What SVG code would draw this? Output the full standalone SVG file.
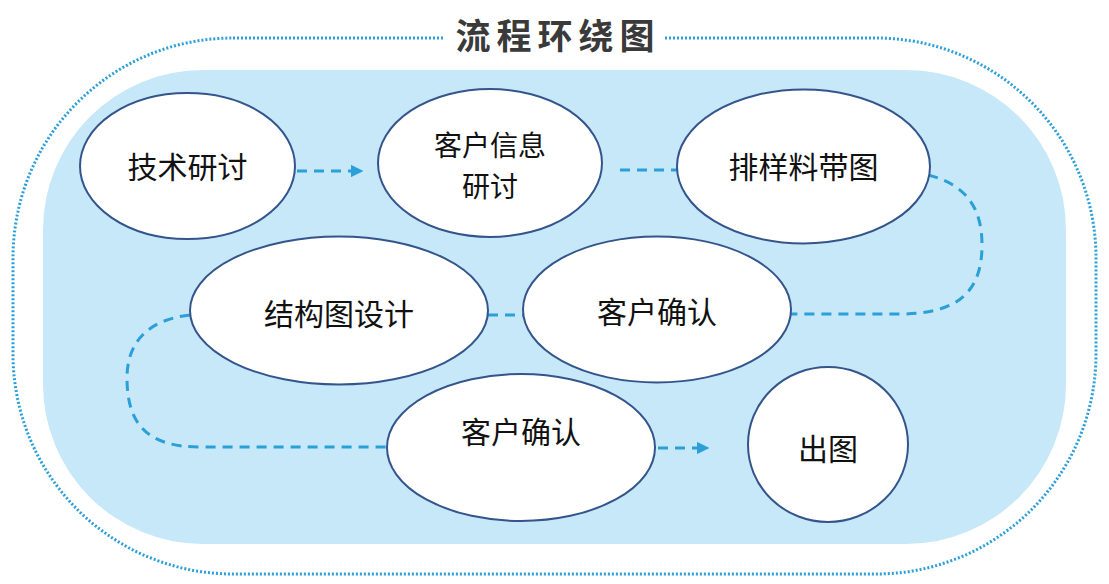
<svg xmlns="http://www.w3.org/2000/svg" width="1109" height="584" viewBox="0 0 1109 584">
  <style>
    .node ellipse { fill: #ffffff; stroke: #34548c; stroke-width: 2; }
    .node text { font-family: "Noto Sans CJK SC", "Liberation Serif", sans-serif; font-size: 30px; fill: #111111; text-anchor: middle; dominant-baseline: central; }
    .node text.two { font-size: 28px; }
    .conn path { fill: none; stroke: #2a9fd8; stroke-width: 3; stroke-dasharray: 10 7; }
    .title { font-family: "Noto Sans CJK SC", sans-serif; font-size: 35px; font-weight: 700; fill: #3a3a3a; text-anchor: middle; dominant-baseline: central; letter-spacing: 6px; }
  </style>
  <defs>
    <marker id="arrow" viewBox="0 0 10 10" refX="9" refY="5" markerWidth="4.2" markerHeight="4.2" orient="auto" markerUnits="strokeWidth">
      <path d="M0,0 L10,5 L0,10 Z" fill="#2a9fd8"/>
    </marker>
  </defs>
  <rect x="0" y="0" width="1109" height="584" fill="#ffffff"/>
  <g id="frame">
    <rect x="13" y="38" width="1083" height="536" rx="220" ry="220" fill="none" stroke="#2a9fd8" stroke-width="3" stroke-dasharray="2 2"/>
    <rect x="43" y="70" width="1023" height="474" rx="160" ry="160" fill="#c6e8f8"/>
    <rect x="445" y="22" width="220" height="30" fill="#ffffff"/>
    <text class="title" x="558" y="33">流程环绕图</text>
  </g>
  <g id="connectors" class="conn">
    <path d="M297 171 L362 171" marker-end="url(#arrow)"/>
    <path d="M620 170 L680 170"/>
    <path d="M928 175 C968 185, 982 210, 982 245 C982 290, 960 314, 900 314 L790 314"/>
    <path d="M488 315 L526 315"/>
    <path d="M190 315 C145 320, 127 345, 127 378 C127 425, 148 447, 200 447 L390 447"/>
    <path d="M658 448 L708 448" marker-end="url(#arrow)"/>
  </g>
  <g id="node1" class="node">
    <ellipse cx="187.5" cy="166" rx="107.5" ry="73"/>
    <text x="187.5" y="165">技术研讨</text>
  </g>
  <g id="node2" class="node">
    <ellipse cx="490" cy="163" rx="112" ry="74"/>
    <text class="two" x="490" y="144">客户信息</text>
    <text class="two" x="490" y="185">研讨</text>
  </g>
  <g id="node3" class="node">
    <ellipse cx="803.5" cy="166.5" rx="126.5" ry="77"/>
    <text x="803.5" y="165">排样料带图</text>
  </g>
  <g id="node4" class="node">
    <ellipse cx="339" cy="310.5" rx="149" ry="74"/>
    <text x="339" y="312">结构图设计</text>
  </g>
  <g id="node5" class="node">
    <ellipse cx="657" cy="309.5" rx="134" ry="73"/>
    <text x="657" y="310">客户确认</text>
  </g>
  <g id="node6" class="node">
    <ellipse cx="521" cy="447.5" rx="134" ry="73.5"/>
    <text x="521" y="430">客户确认</text>
  </g>
  <g id="node7" class="node">
    <ellipse cx="828" cy="444.5" rx="80" ry="77.5"/>
    <text x="828" y="447">出图</text>
  </g>
</svg>
